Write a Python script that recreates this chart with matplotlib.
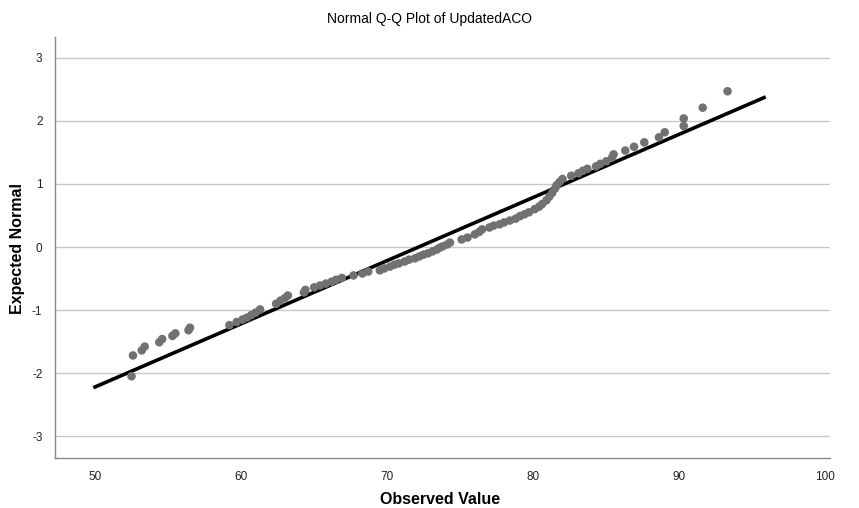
import numpy as np
import matplotlib.pyplot as plt

plt.rcParams['font.family'] = ['Liberation Sans', 'DejaVu Sans']
plt.rcParams['axes.unicode_minus'] = False

observed = [52.5, 52.6, 53.2, 53.4, 54.4, 54.6, 55.3, 55.5, 56.4, 56.5,
            59.2, 59.7, 60.1, 60.4, 60.7, 61.0, 61.3, 62.4, 62.7, 63.0,
            63.2, 64.3, 64.4, 65.0, 65.4, 65.8, 66.2, 66.5, 66.9, 67.7,
            68.3, 68.7, 69.5, 69.8, 70.2, 70.5, 70.8, 71.2, 71.5, 71.9,
            72.2, 72.5, 72.8, 73.1, 73.4, 73.6, 73.8, 74.1, 74.3, 75.1,
            75.5, 76.0, 76.3, 76.5, 77.0, 77.3, 77.7, 78.0, 78.4, 78.8,
            79.1, 79.4, 79.7, 80.1, 80.4, 80.6, 80.9, 81.1, 81.3, 81.5,
            81.6, 81.8, 82.0, 82.6, 83.1, 83.4, 83.7, 84.3, 84.6, 85.0,
            85.4, 85.5, 86.3, 86.9, 87.6, 88.6, 89.0, 90.3, 90.3, 91.6,
            93.3]
expected = [-2.05, -1.72, -1.64, -1.58, -1.51, -1.46, -1.41, -1.37, -1.32, -1.28,
            -1.24, -1.19, -1.15, -1.12, -1.08, -1.04, -0.99, -0.90, -0.85, -0.81,
            -0.77, -0.72, -0.68, -0.64, -0.61, -0.58, -0.55, -0.52, -0.49, -0.45,
            -0.42, -0.39, -0.37, -0.34, -0.31, -0.28, -0.26, -0.23, -0.20, -0.18,
            -0.15, -0.12, -0.10, -0.07, -0.04, -0.01, 0.01, 0.04, 0.07, 0.12,
            0.15, 0.20, 0.24, 0.28, 0.31, 0.34, 0.36, 0.39, 0.42, 0.45,
            0.49, 0.52, 0.55, 0.60, 0.64, 0.68, 0.74, 0.80, 0.86, 0.93,
            0.98, 1.03, 1.08, 1.13, 1.17, 1.21, 1.24, 1.28, 1.32, 1.36,
            1.42, 1.47, 1.53, 1.59, 1.66, 1.74, 1.82, 1.92, 2.04, 2.21,
            2.47]

# reference line end points
line_x = [50.0, 95.8]
line_y = [-2.22, 2.37]

x_ticks = [50, 60, 70, 80, 90, 100]
y_ticks = [-3, -2, -1, 0, 1, 2, 3]

fig = plt.figure(figsize=(8.59, 5.08), dpi=100)
ax = fig.add_axes([0.064, 0.098, 0.902, 0.829])

ax.set_xlim(47.26, 100.3)
ax.set_ylim(-3.35, 3.33)
ax.set_yticks(y_ticks)
ax.set_xticks(x_ticks)
ax.grid(axis='y', color='#c8c8c8', linewidth=1.0)
ax.set_axisbelow(True)

ax.plot(line_x, line_y, color='black', linewidth=2.6, zorder=2)
ax.scatter(observed, expected, s=38, color='#717171', edgecolors='none', zorder=3)

for s in ['top', 'right']:
    ax.spines[s].set_visible(False)
for s in ['left', 'bottom']:
    ax.spines[s].set_color('#888888')
    ax.spines[s].set_linewidth(1.0)
ax.tick_params(length=0, labelsize=8.5, colors='#222222', pad=9)
ax.tick_params(axis='x', pad=9)

fig.text(0.512, 0.016, 'Observed Value', ha='center', va='center', fontsize=11.5, fontweight='bold')
fig.text(0.020, 0.51, 'Expected Normal', ha='center', va='center', rotation=90,
         fontsize=11.5, fontweight='bold')
fig.text(0.5, 0.962, 'Normal Q-Q Plot of UpdatedACO', ha='center', va='center', fontsize=10)

plt.savefig('out.png', dpi=100)
